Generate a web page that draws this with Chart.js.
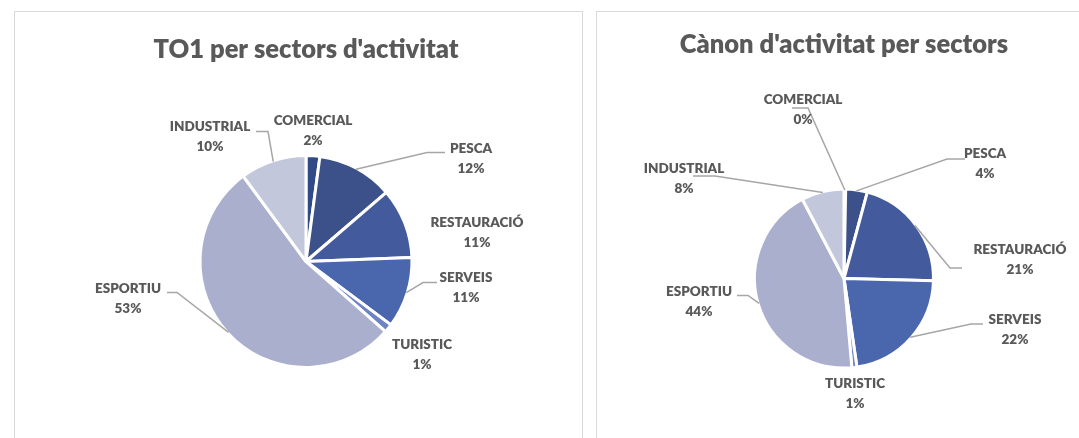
<!DOCTYPE html>
<html>
<head>
<meta charset="utf-8">
<script src="https://cdn.jsdelivr.net/npm/chart.js@4.4.1/dist/chart.umd.min.js"></script>
<style>
    html, body { margin: 0; padding: 0; background: #fff; overflow: hidden; }
    body { width: 1079px; height: 438px; position: relative; }
    .panel { position: absolute; top: 11px; border: 1px solid #d9d9d9; background: #fff; overflow: hidden; }
    #panel-to1 { left: 14px; width: 567px; height: 440px; }
    #panel-canon { left: 596px; width: 500px; height: 440px; }
    canvas { display: block; }
</style>
</head>
<body>
<div class="panel" id="panel-to1"><canvas id="chartTO1" width="567" height="426"></canvas></div>
<div class="panel" id="panel-canon"><canvas id="chartCanon" width="500" height="426"></canvas></div>
<script>
// Data
const SECTORS = ["COMERCIAL", "PESCA", "RESTAURACIÓ", "SERVEIS", "TURISTIC", "ESPORTIU", "INDUSTRIAL"];
const TO1_VALUES = [2.1, 11.6, 10.7, 10.8, 1.3, 53.4, 10.1];
const CANON_VALUES = [0.3, 3.9, 21.2, 22.3, 0.9, 43.7, 7.7];
const TO1_TITLE = "TO1 per sectors d'activitat";
const CANON_TITLE = "Cànon d'activitat per sectors";

(function () {
    "use strict";

    const FONT = "Lato";
    const TEXT_COLOR = "#595959";
    const LEADER_COLOR = "#a6a6a6";
    const SECTOR_COLORS = ["#2f4a87", "#3c5189", "#435b9c", "#4a67ae", "#6c84c4", "#a9afcc", "#c2c7dc"];

    // label placement, relative to pie centre: [dx, dy, leader] with leader = [ax, bx, y] relative to label
    const TO1_PLACES = [
        [7, -131, null],
        [165, -103, [-44, -26, -6]],
        [171, -29, null],
        [160, 26, [-43, -29, -5]],
        [116, 93, null],
        [-178, 37, [49, 39, -6]],
        [-96, -125, [58, 46, -5]],
    ];
    const CANON_PLACES = [
        [-41, -169, [5, -11, -1.5]],
        [141, -115, [-38, -20, -4.5]],
        [176, -19, [-70, -58, 8.5]],
        [171, 51, [-44, -32, -5.5]],
        [11, 115, null],
        [-145, 23, [49, 38, -6]],
        [-160, -100, [31, 9, -2.5]],
    ];

    // ============================
    // Slice labels with leader lines
    // ============================
    const sliceLabels = {
        id: "sliceLabels",
        afterDatasetsDraw(chart, args, opts) {
            const meta = chart.getDatasetMeta(0);
            const values = chart.data.datasets[0].data;
            const total = values.reduce((a, b) => a + b, 0);
            const ctx = chart.ctx;
            ctx.save();

            meta.data.forEach((arc, i) => {
                const p = opts.places[i];
                if (!p[2]) return;
                const lx = arc.x + p[0];
                const ly = arc.y + p[1];
                const mid = (arc.startAngle + arc.endAngle) / 2;
                const r = arc.outerRadius - 1;
                ctx.beginPath();
                ctx.moveTo(arc.x + Math.cos(mid) * r, arc.y + Math.sin(mid) * r);
                ctx.lineTo(lx + p[2][0], ly + p[2][2]);
                ctx.lineTo(lx + p[2][1], ly + p[2][2]);
                ctx.strokeStyle = LEADER_COLOR;
                ctx.lineWidth = 1.5;
                ctx.stroke();
            });

            ctx.fillStyle = TEXT_COLOR;
            ctx.font = "800 13.5px " + FONT;
            ctx.textAlign = "center";
            ctx.textBaseline = "middle";
            meta.data.forEach((arc, i) => {
                const p = opts.places[i];
                const lx = arc.x + p[0];
                const ly = arc.y + p[1];
                const pct = Math.round((values[i] / total) * 100) + "%";
                ctx.fillText(chart.data.labels[i], lx, ly - 10);
                ctx.fillText(pct, lx, ly + 10);
            });
            ctx.restore();
        },
    };

    function makePie(canvas, values, title, places, padding, titlePad) {
        return new Chart(canvas, {
            type: "pie",
            data: {
                labels: SECTORS,
                datasets: [
                    {
                        data: values,
                        backgroundColor: SECTOR_COLORS,
                        borderColor: "#ffffff",
                        borderWidth: 3,
                    },
                ],
            },
            options: {
                responsive: false,
                animation: false,
                layout: { padding },
                plugins: {
                    legend: { display: false },
                    tooltip: { enabled: false },
                    title: {
                        display: true,
                        text: title,
                        color: TEXT_COLOR,
                        font: { family: FONT, size: 25.5, weight: "800" },
                        padding: titlePad,
                    },
                    sliceLabels: { places },
                },
            },
            plugins: [sliceLabels],
        });
    }

    // ============================
    // INIT
    // ============================
    // the pie sits in the middle of the chart area, its size set by the area height
    makePie(document.getElementById("chartTO1"), TO1_VALUES, TO1_TITLE, TO1_PLACES,
        { left: 15, right: 0, top: 0, bottom: 69 }, { top: 22.1, bottom: 89.3 });
    makePie(document.getElementById("chartCanon"), CANON_VALUES, CANON_TITLE, CANON_PLACES,
        { left: 0, right: 6, top: 0, bottom: 68.5 }, { top: 17.1, bottom: 127.8 });
})();
</script>
</body>
</html>
